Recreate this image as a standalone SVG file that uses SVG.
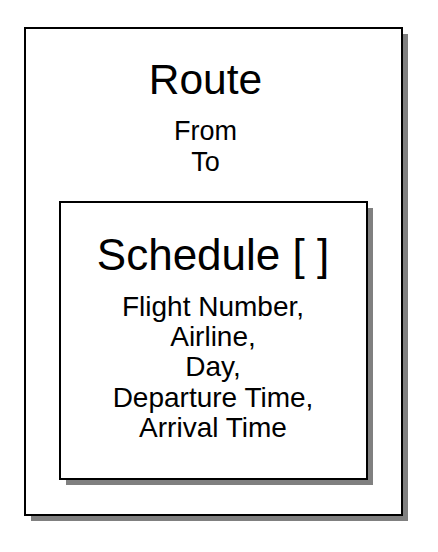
<svg xmlns="http://www.w3.org/2000/svg" width="438" height="552" viewBox="0 0 438 552">
  <style>
    .box { fill: #ffffff; stroke: #000000; stroke-width: 2; }
    .shadow { fill: #808080; stroke: none; }
    text { font-family: "Liberation Sans", Arial, sans-serif; fill: #000000; text-anchor: middle; }
    .title1 { font-size: 42.5px; }
    .title2 { font-size: 44px; }
    .attr1 { font-size: 27px; }
    .attr2 { font-size: 28px; }
  </style>
  <rect width="438" height="552" fill="#ffffff"/>
  <g id="route">
    <rect class="shadow" x="31" y="34" width="377" height="487"/>
    <rect class="box" x="25" y="28" width="377" height="487"/>
    <text class="title1" x="205.5" y="93.5">Route</text>
    <text class="attr1" x="205.5" y="139.5">From</text>
    <text class="attr1" x="205.5" y="171">To</text>
  </g>
  <g id="schedule">
    <rect class="shadow" x="66" y="208" width="307" height="277"/>
    <rect class="box" x="60" y="202" width="307" height="277"/>
    <text class="title2" x="213" y="270">Schedule [ ]</text>
    <text class="attr2" x="213" y="316">Flight Number,</text>
    <text class="attr2" x="213" y="346">Airline,</text>
    <text class="attr2" x="213" y="376">Day,</text>
    <text class="attr2" x="213" y="406.5">Departure Time,</text>
    <text class="attr2" x="213" y="436.5">Arrival Time</text>
  </g>
  <g id="connectors"></g>
</svg>
